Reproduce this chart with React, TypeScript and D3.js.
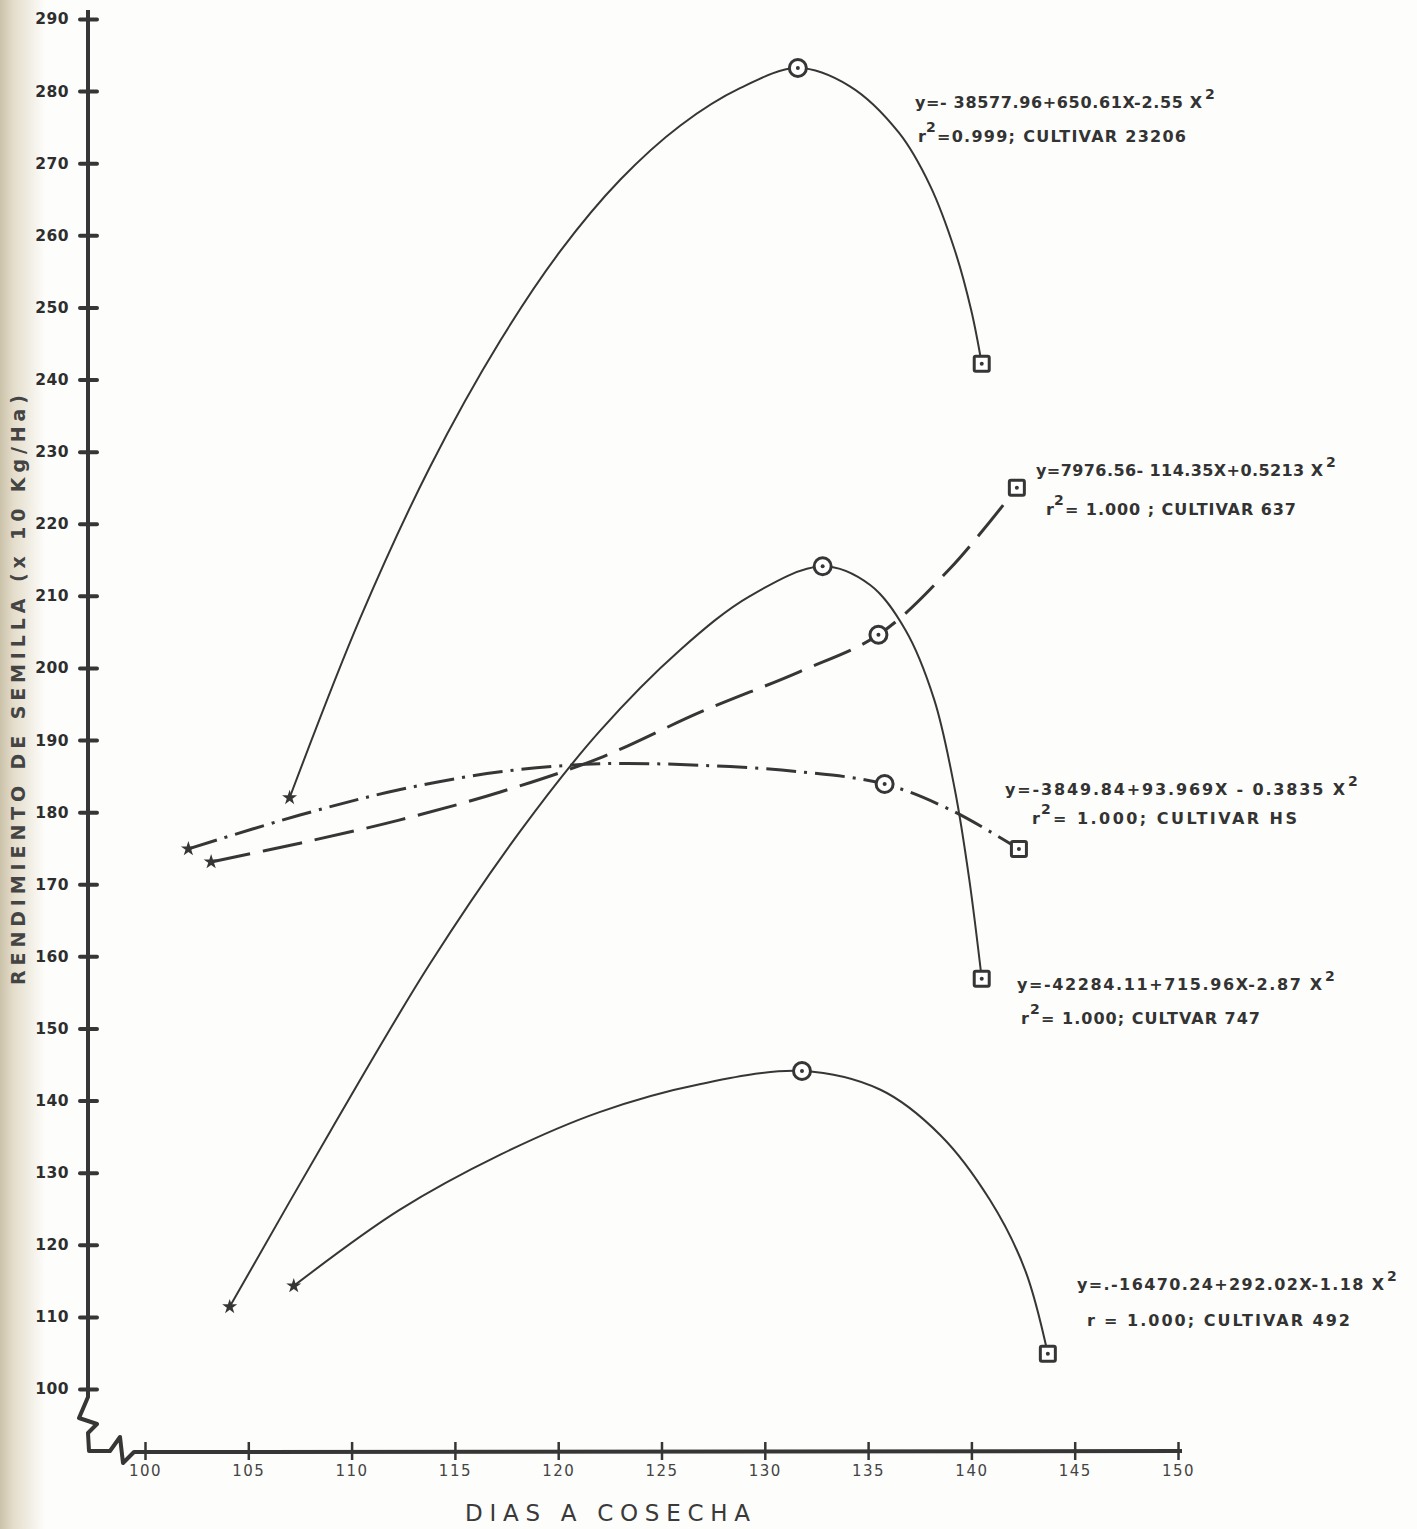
import React, { useEffect, useRef } from 'react';
import * as d3 from 'd3';

// axis ticks
const xTicks = [100, 105, 110, 115, 120, 125, 130, 135, 140, 145, 150];
const yTicks = [100, 110, 120, 130, 140, 150, 160, 170, 180, 190, 200, 210, 220, 230, 240, 250, 260, 270, 280, 290];

// cultivars, in drawing order
const cultivars = ['23206', '747', '492', '637', 'HS'];

// observed points (dias, rendimiento x10 kg/ha): first harvest (star), middle (circle), last (square)
const starDays = [107.0, 104.1, 107.2, 103.2, 102.1];
const starYield = [182.0, 111.4, 114.3, 173.1, 174.9];
const circleDays = [131.6, 132.8, 131.8, 135.5, 135.8];
const circleYield = [283.2, 214.1, 144.1, 204.6, 183.9];
const squareDays = [140.5, 140.5, 143.7, 142.2, 142.3];
const squareYield = [242.2, 156.9, 104.9, 225.0, 174.9];

// fitted curves as drawn
const trace23206 = [[107.0, 182.0], [110.4, 206.8], [113.8, 227.9], [117.2, 245.4], [120.1, 257.8], [123.0, 267.7], [125.9, 275.2], [128.8, 280.4], [131.6, 283.2], [134.1, 280.7], [136.5, 274.2], [138.0, 266.9], [139.2, 257.9], [140.0, 249.5], [140.5, 242.2]];
const trace747 = [[104.1, 111.4], [109.0, 135.9], [113.8, 159.0], [118.2, 177.5], [122.0, 191.2], [125.9, 202.5], [129.3, 210.0], [132.8, 214.1], [135.1, 211.5], [136.8, 205.3], [138.2, 195.6], [139.2, 183.1], [139.9, 170.6], [140.5, 156.9]];
const trace492 = [[107.2, 114.3], [112.3, 124.8], [117.2, 132.5], [122.0, 138.4], [126.9, 142.3], [131.8, 144.1], [135.6, 141.5], [138.5, 135.2], [140.9, 126.2], [142.6, 116.5], [143.7, 104.9]];
const trace637 = [[103.2, 173.1], [107.5, 175.7], [112.3, 178.9], [117.2, 182.8], [122.0, 187.5], [126.9, 193.9], [131.7, 199.5], [135.5, 204.6], [139.0, 213.9], [142.2, 225.0]];
const traceHS = [[102.1, 174.9], [107.5, 179.6], [112.3, 183.1], [117.2, 185.6], [122.0, 186.7], [126.9, 186.5], [131.7, 185.6], [135.8, 183.9], [139.0, 180.3], [142.3, 174.9]];

// equation texts
const eqText = [
  'y=- 38577.96+650.61X-2.55 X',
  'y=-42284.11+715.96X-2.87 X',
  'y=.-16470.24+292.02X-1.18 X',
  'y=7976.56- 114.35X+0.5213 X',
  'y=-3849.84+93.969X - 0.3835 X',
];
const fitText = [
  '=0.999; CULTIVAR 23206',
  '= 1.000; CULTVAR 747',
  '= 1.000; CULTIVAR 492',
  '= 1.000 ; CULTIVAR 637',
  '= 1.000; CULTIVAR HS',
];

export default function App() {
  const svgRef = useRef(null);

  useEffect(() => {
    const svg = d3.select(svgRef.current);
    svg.selectAll('*').remove();

    const ink = '#363636';
    const x = d3.scaleLinear().domain([100, 150]).range([145, 1178]);
    const y = d3.scaleLinear().domain([100, 290]).range([1389, 19]);

    // paper + page edge shadow
    const defs = svg.append('defs');
    const grad = defs.append('linearGradient').attr('id', 'edge');
    grad.append('stop').attr('offset', '0%').attr('stop-color', '#cbc2aa');
    grad.append('stop').attr('offset', '30%').attr('stop-color', '#e4ddcb');
    grad.append('stop').attr('offset', '100%').attr('stop-color', '#fdfdfb');
    svg.append('rect').attr('width', 1417).attr('height', 1529).attr('fill', '#fdfdfb');
    svg.append('rect').attr('width', 45).attr('height', 1529).attr('fill', 'url(#edge)');

    // y axis
    const yAxis = svg.append('g')
      .attr('transform', 'translate(88,0)')
      .call(d3.axisLeft(y).tickValues(yTicks).tickSize(8).tickFormat(d3.format('d')));
    yAxis.select('.domain').remove();
    yAxis.selectAll('.tick line')
      .attr('x1', 9).attr('x2', -8)
      .attr('stroke', ink).attr('stroke-width', 4).attr('stroke-linecap', 'round');
    yAxis.selectAll('.tick text')
      .attr('x', -19)
      .attr('fill', '#2e2e2e')
      .attr('font-family', 'DejaVu Sans')
      .attr('font-weight', 'bold')
      .attr('font-size', 15.5)
      .attr('letter-spacing', 0.5);

    // x axis
    const xAxis = svg.append('g')
      .attr('transform', 'translate(0,1451)')
      .call(d3.axisBottom(x).tickValues(xTicks).tickSize(9));
    xAxis.select('.domain').remove();
    xAxis.selectAll('.tick line')
      .attr('y1', -9).attr('y2', 9)
      .attr('stroke', ink).attr('stroke-width', 2.5);
    xAxis.selectAll('.tick text')
      .attr('y', 14)
      .attr('fill', '#444')
      .attr('font-family', 'DejaVu Sans')
      .attr('font-size', 15)
      .attr('letter-spacing', 1.5);

    // axis lines with the broken corner
    svg.append('path')
      .attr('d', `M88,10 L88,${y(100) + 8} L79,1418 L97,1424 L88,1433 L89,1451 L110,1451 L120,1437 L123,1463 L134,1452 L${x(150) + 4},1451`)
      .attr('fill', 'none').attr('stroke', ink).attr('stroke-width', 4).attr('stroke-linejoin', 'round');

    // axis titles
    svg.append('text')
      .attr('x', 465).attr('y', 1521)
      .attr('textLength', 285).attr('lengthAdjust', 'spacing')
      .attr('font-family', 'DejaVu Sans').attr('font-size', 23).attr('fill', '#3a3a3a')
      .text('DIAS A COSECHA');
    svg.append('text')
      .attr('transform', 'translate(25,690) rotate(-90)')
      .attr('text-anchor', 'middle')
      .attr('textLength', 590).attr('lengthAdjust', 'spacing')
      .attr('font-family', 'DejaVu Sans').attr('font-weight', 'bold').attr('font-size', 19).attr('fill', '#444')
      .text('RENDIMIENTO DE SEMILLA (x 10 Kg/Ha)');

    // curves
    const traces = [trace23206, trace747, trace492, trace637, traceHS];
    const dashes = [null, null, null, '40 13', '30 8 3 8'];
    const widths = [2, 2, 2, 3, 3];
    const line = d3.line()
      .x(d => x(d[0]))
      .y(d => y(d[1]))
      .curve(d3.curveCatmullRom.alpha(0.5));
    traces.forEach((t, i) => {
      svg.append('path')
        .datum(t)
        .attr('fill', 'none')
        .attr('stroke', ink)
        .attr('stroke-width', widths[i])
        .attr('stroke-dasharray', dashes[i])
        .attr('d', line);
    });

    // markers
    const star = d3.symbol().type(d3.symbolStar).size(70);
    cultivars.forEach((c, i) => {
      svg.append('path')
        .attr('transform', `translate(${x(starDays[i])},${y(starYield[i])})`)
        .attr('d', star())
        .attr('fill', ink);
      const cx = x(circleDays[i]), cy = y(circleYield[i]);
      svg.append('circle').attr('cx', cx).attr('cy', cy).attr('r', 8.5)
        .attr('fill', '#fff').attr('stroke', ink).attr('stroke-width', 3);
      svg.append('circle').attr('cx', cx).attr('cy', cy).attr('r', 2).attr('fill', ink);
      const sx = x(squareDays[i]), sy = y(squareYield[i]);
      svg.append('rect').attr('x', sx - 7.5).attr('y', sy - 7.5).attr('width', 15).attr('height', 15)
        .attr('rx', 1.5)
        .attr('fill', '#fff').attr('stroke', ink).attr('stroke-width', 3);
      svg.append('circle').attr('cx', sx).attr('cy', sy).attr('r', 2).attr('fill', ink);
    });

    // equation labels: [eqX, eqEnd, eqY, rX, supX, restX, restEnd, rY]
    const labelPos = [
      [915, 1202, 108, 918, 926, 937, 1186, 142],
      [1017, 1322, 990, 1021, 1030, 1041, 1260, 1024],
      [1077, 1384, 1290, 1087, null, 1104, 1350, 1326],
      [1036, 1323, 476, 1046, 1054, 1065, 1296, 515],
      [1005, 1345, 795, 1032, 1041, 1053, 1297, 824],
    ];
    const font = (s) => s
      .attr('font-family', 'DejaVu Sans')
      .attr('font-weight', 'bold')
      .attr('fill', '#333');
    cultivars.forEach((c, i) => {
      const [ex, ee, ey, rx, sx, tx, te, ry] = labelPos[i];
      svg.append('text').attr('x', ex).attr('y', ey)
        .attr('textLength', ee - ex).attr('lengthAdjust', 'spacing')
        .attr('font-size', 16).call(font).text(eqText[i]);
      svg.append('text').attr('x', ee + 3).attr('y', ey - 9)
        .attr('font-size', 14).call(font).text('2');
      svg.append('text').attr('x', rx).attr('y', ry)
        .attr('font-size', 16).call(font).text('r');
      if (sx != null) {
        svg.append('text').attr('x', sx).attr('y', ry - 10)
          .attr('font-size', 14).call(font).text('2');
      }
      svg.append('text').attr('x', tx).attr('y', ry)
        .attr('textLength', te - tx).attr('lengthAdjust', 'spacing')
        .attr('font-size', 16).call(font).text(fitText[i]);
    });
  }, []);

  return (
    <div style={{ position: 'absolute', left: 0, top: 0 }}>
      <svg ref={svgRef} width={1417} height={1529} style={{ display: 'block' }}></svg>
    </div>
  );
}
